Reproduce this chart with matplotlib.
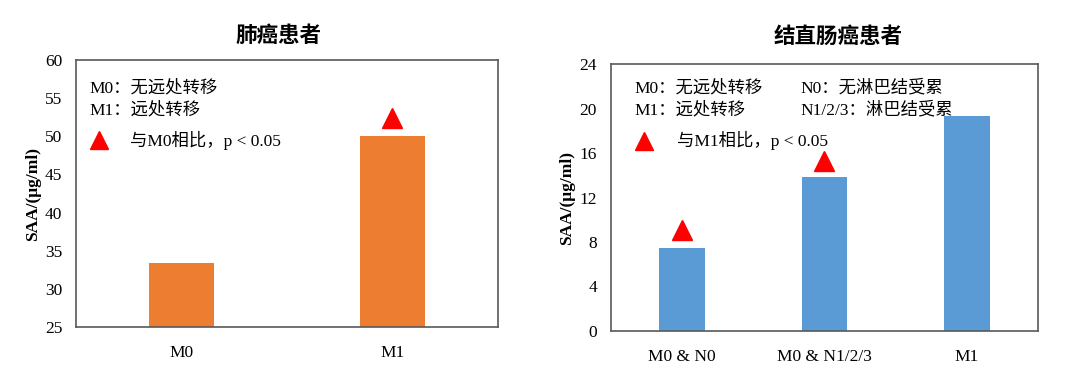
import matplotlib.pyplot as plt
import numpy as np

plt.rcParams['font.family'] = ['Liberation Serif', 'Noto Sans CJK SC']

# lung cancer panel
lung_cats = ['M0', 'M1']
lung_vals = [33.4, 50.0]
lung_sig = [None, 52.4]

# colorectal cancer panel
crc_cats = ['M0 & N0', 'M0 & N1/2/3', 'M1']
crc_vals = [7.5, 13.85, 19.3]
crc_sig = [9.1, 15.3, None]

orange = '#ED7D31'
blue = '#5B9BD5'
frame = '#595959'


def style_axes(ax):
    for s in ax.spines.values():
        s.set_color(frame)
        s.set_linewidth(1.2)
    ax.tick_params(axis='y', length=0, labelsize=12.5, pad=10)
    ax.tick_params(axis='x', length=0, labelsize=12.5, pad=13)
    ax.set_ylabel('SAA/(μg/ml)', fontsize=12.5, fontweight='bold', labelpad=3)


def draw_panel(ax, cats, vals, sig, color, width, ymin, ymax, yticks):
    x = np.arange(len(cats))
    ax.bar(x, [v - ymin for v in vals], bottom=ymin, width=width, color=color)
    for xi, s in zip(x, sig):
        if s is not None:
            ax.plot(xi, s, '^', color='red', markersize=15, clip_on=False)
    ax.set_xlim(-0.5, len(cats) - 0.5)
    ax.set_ylim(ymin, ymax)
    ax.set_yticks(yticks)
    ax.set_xticks(x)
    ax.set_xticklabels(cats)
    style_axes(ax)


fig = plt.figure(figsize=(10.8, 3.83), dpi=100)
ax1 = fig.add_axes([0.0704, 0.1462, 0.3907, 0.697])
ax2 = fig.add_axes([0.5657, 0.1358, 0.3954, 0.697])

draw_panel(ax1, lung_cats, lung_vals, lung_sig, orange, 0.31,
           25, 60, np.arange(25, 61, 5))
draw_panel(ax2, crc_cats, crc_vals, crc_sig, blue, 0.32,
           0, 24, np.arange(0, 25, 4))

fig.text(278 / 1080, 1 - 37 / 383, '肺癌患者', fontsize=15.5, fontweight='bold',
         ha='center', va='center')
fig.text(838 / 1080, 1 - 37 / 383, '结直肠癌患者', fontsize=15.5, fontweight='bold',
         ha='center', va='center')

fs = 12.5
ax1.text(0.031, 0.895, 'M0：无远处转移', transform=ax1.transAxes, fontsize=fs, va='center')
ax1.text(0.031, 0.813, 'M1：远处转移', transform=ax1.transAxes, fontsize=fs, va='center')
ax1.plot(0.0545, 0.70, '^', color='red', markersize=13, transform=ax1.transAxes)
ax1.text(0.128, 0.70, '与M0相比，p < 0.05', transform=ax1.transAxes, fontsize=fs, va='center')

ax2.text(0.056, 0.91, 'M0：无远处转移', transform=ax2.transAxes, fontsize=fs, va='center')
ax2.text(0.056, 0.828, 'M1：远处转移', transform=ax2.transAxes, fontsize=fs, va='center')
ax2.text(0.443, 0.91, 'N0：无淋巴结受累', transform=ax2.transAxes, fontsize=fs, va='center')
ax2.text(0.443, 0.828, 'N1/2/3：淋巴结受累', transform=ax2.transAxes, fontsize=fs, va='center')
ax2.plot(0.077, 0.712, '^', color='red', markersize=13, transform=ax2.transAxes)
ax2.text(0.155, 0.712, '与M1相比，p < 0.05', transform=ax2.transAxes, fontsize=fs, va='center')

fig.savefig('out.png', dpi=100)
